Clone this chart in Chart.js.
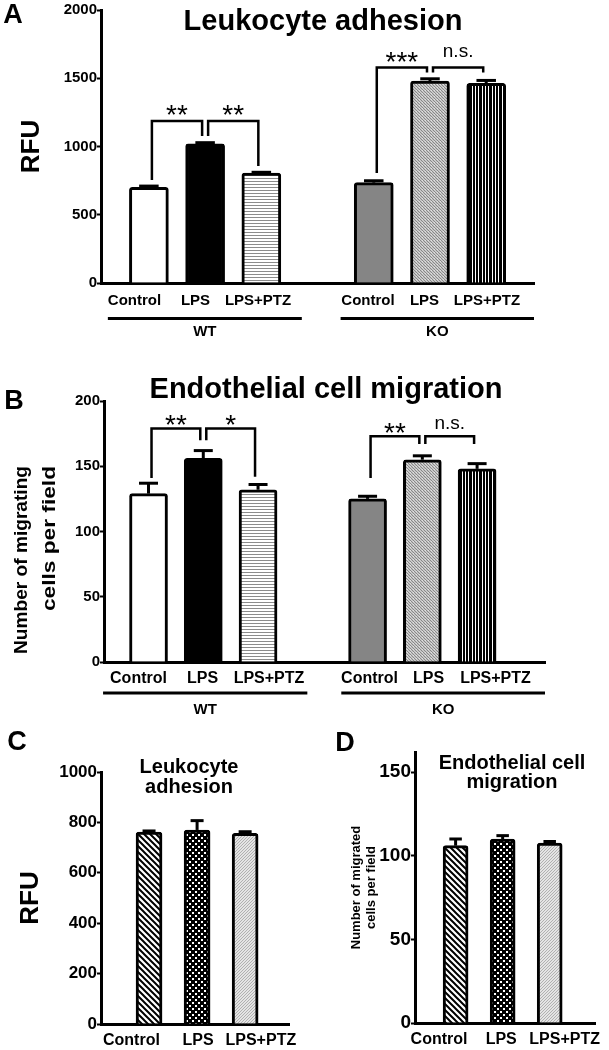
<!DOCTYPE html>
<html>
<head>
<meta charset="utf-8">
<script src="https://cdn.jsdelivr.net/npm/chart.js@4.4.1/dist/chart.umd.min.js"></script>
<style>
html,body{margin:0;padding:0;background:#fff;}
#wrap{position:relative;width:609px;height:1050px;background:#fff;overflow:hidden;}
canvas{position:absolute;}
</style>
</head>
<body>
<div id="wrap">
<canvas id="cA" width="609" height="340" style="left:0px;top:0px"></canvas>
<canvas id="cB" width="609" height="380" style="left:0px;top:340px"></canvas>
<canvas id="cC" width="305" height="330" style="left:0px;top:720px"></canvas>
<canvas id="cD" width="304" height="330" style="left:305px;top:720px"></canvas>
</div>
<script>
// ---------------- data ----------------
const treatments = ['Control', 'LPS', 'LPS+PTZ'];
const genotypes = ['WT', 'KO'];
const slotsWT = [1, 2, 3];
const slotsKO = [5, 6, 7];
const slotsSingle = [1, 2, 3];

// Panel A: leukocyte adhesion (RFU)
const adhesionWT = [700, 1020, 805];
const adhesionWTErr = [10, 8, 6];
const adhesionKO = [735, 1480, 1463];
const adhesionKOErr = [14, 16, 21];

// Panel B: endothelial cell migration (cells per field)
const migrationWT = [129, 156, 132];
const migrationWTErr = [8, 6, 4];
const migrationKO = [125, 155, 148];
const migrationKOErr = [2, 3, 4];

// Panel C: leukocyte adhesion (RFU)
const adhesionC = [762, 770, 757];
const adhesionCErr = [4, 37, 6];

// Panel D: endothelial cell migration
const migrationD = [106, 110, 107.5];
const migrationDErr = [4, 2, 1];

// tick labels
const ticksA = [0, 500, 1000, 1500, 2000];
const ticksB = [0, 50, 100, 150, 200];
const ticksC = [0, 200, 400, 600, 800, 1000];
const ticksD = [0, 50, 100, 150];

// significance brackets (bar slots, heights in data units)
const bracketsA = [
  {from: 1, to: 2, top: 1187, ends: [755, 1077], label: '**'},
  {from: 2, to: 3, top: 1187, ends: [1077, 857], label: '**'},
  {from: 5, to: 6, top: 1578, ends: [806, 1542], label: '***'},
  {from: 6, to: 7, top: 1578, ends: [1542, 1542], label: 'n.s.'}
];
const bracketsB = [
  {from: 1, to: 2, top: 179, ends: [141, 170], label: '**'},
  {from: 2, to: 3, top: 179, ends: [170, 142], label: '*'},
  {from: 5, to: 6, top: 173, ends: [141, 167], label: '**'},
  {from: 6, to: 7, top: 173, ends: [167, 167], label: 'n.s.'}
];

// ---------------- fills ----------------
Chart.defaults.font.family = "'Liberation Sans', Arial, Helvetica, sans-serif";
Chart.defaults.color = '#000';
const FONT = "'Liberation Sans', Arial, Helvetica, sans-serif";

function pat(w, h, fn) {
  const c = document.createElement('canvas');
  c.width = w; c.height = h;
  const g = c.getContext('2d');
  fn(g, w, h);
  return g.createPattern(c, 'repeat');
}
const FILL = {
  white: '#ffffff',
  black: '#000000',
  gray: '#858585',
  hlines: pat(3, 3, g => { g.fillStyle = '#fff'; g.fillRect(0, 0, 3, 3); g.fillStyle = '#8c8c8c'; g.fillRect(0, 1, 3, 1); }),
  vstripes: pat(10, 2, g => { g.fillStyle = '#000'; g.fillRect(0, 0, 10, 2); g.fillStyle = '#fff'; [2, 5, 8].forEach(x => g.fillRect(x, 0, 1, 2)); }),
  fine: pat(3, 3, g => { g.fillStyle = '#c8c8c8'; g.fillRect(0, 0, 3, 3); g.fillStyle = '#888'; g.fillRect(0, 0, 1, 1); g.fillRect(1, 1, 1, 1); g.fillRect(2, 2, 1, 1); g.fillStyle = '#e0e0e0'; g.fillRect(2, 0, 1, 1); }),
  diag: pat(6, 6, g => { g.fillStyle = '#fff'; g.fillRect(0, 0, 6, 6); g.strokeStyle = '#000'; g.lineWidth = 2; g.beginPath(); [-6, 0, 6].forEach(x0 => { g.moveTo(x0 - 1, -1); g.lineTo(x0 + 7, 7); }); g.stroke(); }),
  dots: pat(6, 6, g => { g.fillStyle = '#000'; g.fillRect(0, 0, 6, 6); g.fillStyle = '#fff'; g.fillRect(0, 0, 2, 2); g.fillRect(3, 3, 2, 2); }),
  light: pat(3, 3, g => { g.fillStyle = '#e4e4e4'; g.fillRect(0, 0, 3, 3); g.fillStyle = '#b0b0b0'; g.fillRect(0, 0, 1, 1); g.fillRect(1, 2, 1, 1); g.fillRect(2, 1, 1, 1); })
};

// ---------------- annotation plugin ----------------
const ann = {};
function drawText(ctx, str, x, y, font, align, baseline, len) {
  ctx.save();
  ctx.font = font;
  ctx.textAlign = align || 'center';
  ctx.textBaseline = baseline || 'middle';
  ctx.translate(x, y);
  if (len) {
    const w = ctx.measureText(str).width;
    if (w > 0) ctx.scale(len / w, 1);
  }
  ctx.fillText(str, 0, 0);
  ctx.restore();
}
const figurePlugin = {
  id: 'figure',
  afterDatasetsDraw(chart) {
    const A = ann[chart.canvas.id];
    const ctx = chart.ctx, xs = chart.scales.x, ys = chart.scales.y;
    const ds = chart.data.datasets[0];
    const meta = chart.getDatasetMeta(0);
    ctx.save();
    ctx.strokeStyle = '#000';
    ctx.fillStyle = '#000';
    ctx.lineCap = 'butt';
    meta.data.forEach((bar, i) => {
      const v = ds.data[i].y, e = ds.errors[i];
      const top = ys.getPixelForValue(v), end = ys.getPixelForValue(v + e);
      const half = bar.width * A.capRatio / 2;
      ctx.lineWidth = A.errWidth;
      ctx.beginPath(); ctx.moveTo(bar.x, top); ctx.lineTo(bar.x, end); ctx.stroke();
      ctx.beginPath(); ctx.moveTo(bar.x - half, end); ctx.lineTo(bar.x + half, end); ctx.stroke();
    });
    (A.brackets || []).forEach(b => {
      const x1 = xs.getPixelForValue(b.from) + A.bracketGap;
      const x2 = xs.getPixelForValue(b.to) - A.bracketGap;
      const yt = ys.getPixelForValue(b.top);
      ctx.lineWidth = A.bracketWidth;
      ctx.beginPath();
      ctx.moveTo(x1, ys.getPixelForValue(b.ends[0]));
      ctx.lineTo(x1, yt);
      ctx.lineTo(x2, yt);
      ctx.lineTo(x2, ys.getPixelForValue(b.ends[1]));
      ctx.stroke();
      const star = b.label.indexOf('*') >= 0;
      drawText(ctx, b.label, (x1 + x2) / 2, yt + (star ? A.starDy : A.nsDy),
        star ? A.starFont : A.nsFont, 'center', 'alphabetic');
    });
    ctx.restore();
  },
  afterDraw(chart) {
    const A = ann[chart.canvas.id];
    const ctx = chart.ctx, xs = chart.scales.x, area = chart.chartArea;
    ctx.save();
    ctx.fillStyle = '#000';
    ctx.strokeStyle = '#000';
    (A.groups || []).forEach(g => {
      const x1 = xs.getPixelForValue(g.span[0]), x2 = xs.getPixelForValue(g.span[1]);
      const yl = area.bottom + A.groupLineDy;
      ctx.lineWidth = 3;
      ctx.beginPath(); ctx.moveTo(x1, yl); ctx.lineTo(x2, yl); ctx.stroke();
      drawText(ctx, g.label, (x1 + x2) / 2, area.bottom + A.groupTextDy, 'bold 15px ' + FONT);
    });
    if (A.title) {
      A.title.lines.forEach((ln, k) => drawText(ctx, ln, A.title.x, A.title.y + k * A.title.gap, 'bold ' + A.title.size + 'px ' + FONT));
    }
    if (A.letter) drawText(ctx, A.letter.text, A.letter.x, A.letter.y, 'bold 27px ' + FONT);
    if (A.yTitle) {
      const t = A.yTitle;
      t.lines.forEach((ln, k) => {
        ctx.save();
        ctx.translate(t.x[k], t.yEnd);
        ctx.rotate(-Math.PI / 2);
        drawText(ctx, ln, 0, 0, t.font, 'right', 'middle', t.len[k]);
        ctx.restore();
      });
    }
    ctx.restore();
  }
};

// ---------------- chart builder ----------------
function buildChart(id, spec) {
  const cv = document.getElementById(id);
  const W = cv.width, H = cv.height, a = spec.area;
  ann[id] = spec.ann;
  return new Chart(cv, {
    type: 'bar',
    data: {
      datasets: [{
        label: spec.name,
        data: spec.points,
        errors: spec.errors,
        backgroundColor: spec.fills,
        borderColor: '#000',
        borderWidth: 3,
        borderRadius: 3,
        borderSkipped: 'start',
        barThickness: spec.barWidth,
        grouped: false
      }]
    },
    options: {
      responsive: false,
      animation: false,
      devicePixelRatio: 1,
      layout: {padding: {left: 0, top: a.t, right: W - a.r, bottom: 0}},
      plugins: {legend: {display: false}, tooltip: {enabled: false}, title: {display: false}},
      scales: {
        x: {
          type: 'linear', min: spec.xMin, max: spec.xMax, offset: false,
          afterBuildTicks: s => { s.ticks = spec.xLabelPos.map(v => ({value: v})); },
          afterFit: s => { s.height = H - a.b; },
          ticks: {autoSkip: false, maxRotation: 0, minRotation: 0, padding: spec.xPad,
            font: {size: spec.xFont, weight: 'bold'}, color: '#000',
            callback: (v, i) => spec.xLabels[i]},
          grid: {display: true, drawOnChartArea: false, drawTicks: false, offset: false},
          border: {display: true, color: '#000', width: 3}
        },
        y: {
          type: 'linear', min: 0, max: spec.yMax,
          afterBuildTicks: s => { s.ticks = spec.yTicks.map(v => ({value: v})); },
          afterFit: s => { s.width = a.l; },
          ticks: {padding: 0, font: {size: spec.yFont, weight: 'bold'}, color: '#000', callback: v => String(v)},
          grid: {display: true, drawOnChartArea: false, drawTicks: true, tickLength: 4, tickWidth: 2, tickColor: '#000'},
          border: {display: true, color: '#000', width: 3},
          title: spec.yTitle || {display: false}
        }
      }
    },
    plugins: [figurePlugin]
  });
}

const pts = (slots, vals) => slots.map((s, i) => ({x: s, y: vals[i]}));

// Panel A
buildChart('cA', {
  name: 'Leukocyte adhesion',
  area: {l: 101, r: 534, t: 10, b: 283},
  points: pts(slotsWT, adhesionWT).concat(pts(slotsKO, adhesionKO)),
  errors: adhesionWTErr.concat(adhesionKOErr),
  fills: [FILL.white, FILL.black, FILL.hlines, FILL.gray, FILL.fine, FILL.vstripes],
  barWidth: 39,
  xMin: 0.148, xMax: 7.85,
  xLabelPos: [0.744, 1.829, 2.941, 4.897, 5.902, 7.014],
  xLabels: treatments.concat(treatments),
  xPad: 9, xFont: 15,
  yMax: 2000, yTicks: ticksA, yFont: 15,
  yTitle: {display: true, text: 'RFU', font: {size: 26, weight: 'bold', lineHeight: 1.2}, color: '#000', padding: {top: 16, bottom: 0}},
  ann: {
    capRatio: 0.5, errWidth: 3, bracketGap: 3, bracketWidth: 2.5,
    brackets: bracketsA, starFont: '28px ' + FONT, nsFont: '19px ' + FONT, starDy: 3, nsDy: -11,
    groups: [{label: genotypes[0], span: [0.27, 3.72]}, {label: genotypes[1], span: [4.41, 7.85]}],
    groupLineDy: 35.5, groupTextDy: 49,
    title: {lines: ['Leukocyte adhesion'], x: 323, y: 22, gap: 0, size: 29},
    letter: {text: 'A', x: 13, y: 16}
  }
});

// Panel B
buildChart('cB', {
  name: 'Endothelial cell migration',
  area: {l: 104, r: 545, t: 61, b: 322},
  points: pts(slotsWT, migrationWT).concat(pts(slotsKO, migrationKO)),
  errors: migrationWTErr.concat(migrationKOErr),
  fills: [FILL.white, FILL.black, FILL.hlines, FILL.gray, FILL.fine, FILL.vstripes],
  barWidth: 38,
  xMin: 0.187, xMax: 8.24,
  xLabelPos: [0.817, 1.986, 3.200, 5.036, 6.113, 7.336],
  xLabels: treatments.concat(treatments),
  xPad: 7, xFont: 16,
  yMax: 200, yTicks: ticksB, yFont: 15,
  ann: {
    capRatio: 0.5, errWidth: 3, bracketGap: 3, bracketWidth: 2.5,
    brackets: bracketsB, starFont: '28px ' + FONT, nsFont: '19px ' + FONT, starDy: 6, nsDy: -7,
    groups: [{label: genotypes[0], span: [0.17, 3.9]}, {label: genotypes[1], span: [4.52, 8.24]}],
    groupLineDy: 31, groupTextDy: 48,
    title: {lines: ['Endothelial cell migration'], x: 326, y: 50, gap: 0, size: 29},
    letter: {text: 'B', x: 14, y: 62},
    yTitle: {lines: ['Number of migrating', 'cells per field'], x: [22, 50], yEnd: 126, len: [188, 145], font: 'bold 19px ' + FONT}
  }
});

// Panel C
buildChart('cC', {
  name: 'Leukocyte adhesion',
  area: {l: 101, r: 293, t: 52, b: 304},
  points: pts(slotsSingle, adhesionC),
  errors: adhesionCErr,
  fills: [FILL.diag, FILL.dots, FILL.light],
  barWidth: 26,
  xMin: 0, xMax: 3.92,
  xLabelPos: [0.633, 2.02, 3.327],
  xLabels: treatments,
  xPad: 7, xFont: 16,
  yMax: 1000, yTicks: ticksC, yFont: 17,
  yTitle: {display: true, text: 'RFU', font: {size: 26, weight: 'bold', lineHeight: 1.2}, color: '#000', padding: {top: 15, bottom: 0}},
  ann: {
    capRatio: 0.5, errWidth: 3,
    title: {lines: ['Leukocyte', 'adhesion'], x: 189, y: 47, gap: 20, size: 20},
    letter: {text: 'C', x: 17, y: 23}
  }
});

// Panel D
buildChart('cD', {
  name: 'Endothelial cell migration',
  area: {l: 110, r: 292, t: 32, b: 303},
  points: pts(slotsSingle, migrationD),
  errors: migrationDErr,
  fills: [FILL.diag, FILL.dots, FILL.light],
  barWidth: 25,
  xMin: 0.137, xMax: 3.97,
  xLabelPos: [0.648, 1.969, 3.317],
  xLabels: treatments,
  xPad: 7, xFont: 16,
  yMax: 162, yTicks: ticksD, yFont: 19,
  yTitle: {display: true, text: ['Number of migrated', 'cells per field'], font: {size: 13, weight: 'bold', lineHeight: 1.15}, color: '#000', padding: {top: 44, bottom: 0}},
  ann: {
    capRatio: 0.5, errWidth: 3,
    title: {lines: ['Endothelial cell', 'migration'], x: 207, y: 43, gap: 19.5, size: 20},
    letter: {text: 'D', x: 40, y: 24}
  }
});
</script>
</body>
</html>
